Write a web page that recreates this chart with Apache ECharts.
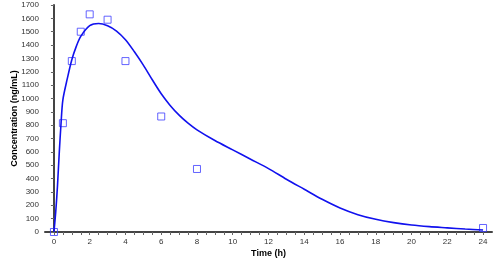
<!DOCTYPE html>
<html>
<head>
<meta charset="utf-8">
<script src="https://cdn.jsdelivr.net/npm/echarts@6/dist/echarts.min.js"></script>
<style>
  html, body { margin: 0; padding: 0; background: #fff; }
  #chart { width: 500px; height: 267px; }
</style>
</head>
<body>
<div id="chart"></div>
<script>
// observed concentrations
const obsTime = [0, 0.5, 1, 1.5, 2, 3, 4, 6, 8, 24];
const obsConc = [0, 815, 1280, 1500, 1630, 1590, 1280, 865, 472, 30];

// fitted curve
const fitTime = [0, 0.1, 0.2, 0.3, 0.4, 0.5, 0.75, 1, 1.25, 1.5, 2, 2.5, 3, 3.5, 4, 4.5, 5, 5.5, 6, 6.5, 7, 7.5, 8, 9, 10, 11, 12, 13, 14, 15, 16, 17, 18, 19, 20, 21, 22, 23, 24];
const fitConc = [0, 150, 350, 600, 820, 990, 1150, 1290, 1390, 1465, 1545, 1562, 1545, 1505, 1440, 1350, 1250, 1140, 1035, 948, 875, 815, 765, 685, 615, 545, 475, 395, 320, 245, 180, 130, 95, 70, 52, 40, 31, 22, 15];

const xLabels = [0, 2, 4, 6, 8, 10, 12, 14, 16, 18, 20, 22, 24];
const xTicks = [];
for (let i = 0; i <= 48; i++) xTicks.push(i / 2);

const chart = echarts.init(document.getElementById('chart'));
const labelFont = { fontFamily: 'Liberation Sans', fontSize: 8, color: '#333' };
const nameFont = { fontFamily: 'Liberation Sans', fontSize: 9, fontWeight: 'bold', color: '#000' };

chart.setOption({
    animation: false,
    grid: { left: 45, right: 8, top: 5, bottom: 35, containLabel: false, outerBoundsMode: 'none' },
    xAxis: {
        type: 'value',
        min: -0.5,
        max: 24.5,
        name: 'Time (h)',
        nameLocation: 'middle',
        nameGap: 17,
        nameMoveOverlap: false,
        nameTextStyle: nameFont,
        axisLine: { show: true, lineStyle: { color: '#444', width: 2 } },
        axisTick: { show: true, customValues: xTicks, length: 3, lineStyle: { color: '#666' } },
        axisLabel: Object.assign({ customValues: xLabels, margin: 6, formatter: v => String(v) }, labelFont),
        splitLine: { show: false }
    },
    yAxis: {
        type: 'value',
        min: 0,
        max: 1700,
        interval: 100,
        name: 'Concentration (ng/mL)',
        nameLocation: 'middle',
        nameGap: 26,
        nameMoveOverlap: false,
        nameTextStyle: nameFont,
        axisLine: { show: true, lineStyle: { color: '#444', width: 2 } },
        axisTick: { show: true, length: 3, lineStyle: { color: '#666' } },
        axisLabel: Object.assign({ margin: 6, formatter: v => String(v) }, labelFont),
        splitLine: { show: false }
    },
    series: [
        {
            name: 'fit',
            type: 'line',
            data: fitTime.map((t, i) => [t, fitConc[i]]),
            smooth: 0.3,
            showSymbol: false,
            lineStyle: { color: '#1111ee', width: 1.6 }
        },
        {
            name: 'observed',
            type: 'scatter',
            data: obsTime.map((t, i) => [t, obsConc[i]]),
            symbol: 'rect',
            symbolSize: 7,
            itemStyle: { color: 'rgba(255,255,255,0)', borderColor: '#3d3dff', borderWidth: 1 }
        }
    ]
});
</script>
</body>
</html>
